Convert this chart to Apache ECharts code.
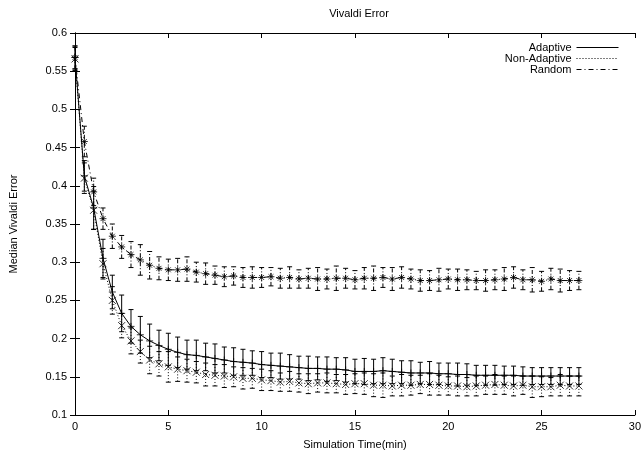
<!DOCTYPE html>
<html>
<head>
<meta charset="utf-8">
<script src="https://cdn.jsdelivr.net/npm/echarts@6/dist/echarts.min.js"></script>
<style>
  html, body { margin: 0; padding: 0; background: #fff; }
  #chart { width: 644px; height: 455px; }
</style>
</head>
<body>
<div id="chart"></div>
<script>
// sample times (min)
const times = [0, 0.5, 1, 1.5, 2, 2.5, 3, 3.5, 4, 4.5, 5, 5.5, 6, 6.5, 7, 7.5, 8, 8.5, 9, 9.5,
  10, 10.5, 11, 11.5, 12, 12.5, 13, 13.5, 14, 14.5, 15, 15.5, 16, 16.5, 17, 17.5, 18, 18.5, 19, 19.5,
  20, 20.5, 21, 21.5, 22, 22.5, 23, 23.5, 24, 24.5, 25, 25.5, 26, 26.5, 27];

const adaptive = [0.568, 0.413, 0.371, 0.305, 0.261, 0.233, 0.216, 0.205, 0.197, 0.191,
  0.186, 0.182, 0.179, 0.178, 0.176, 0.174, 0.172, 0.170, 0.169, 0.168,
  0.166, 0.165, 0.164, 0.163, 0.162, 0.161, 0.161, 0.160, 0.160, 0.159,
  0.157, 0.157, 0.157, 0.158, 0.157, 0.156, 0.155, 0.155, 0.155, 0.154,
  0.154, 0.153, 0.153, 0.152, 0.152, 0.152, 0.152, 0.152, 0.151, 0.151,
  0.151, 0.151, 0.151, 0.151, 0.151];
const adaptiveErr = [0.015, 0.020, 0.028, 0.025, 0.022, 0.024, 0.022, 0.024, 0.022, 0.020,
  0.021, 0.020, 0.019, 0.020, 0.018, 0.019, 0.017, 0.018, 0.017, 0.016,
  0.017, 0.016, 0.017, 0.016, 0.015, 0.016, 0.015, 0.016, 0.015, 0.016,
  0.016, 0.017, 0.016, 0.017, 0.016, 0.015, 0.016, 0.014, 0.015, 0.014,
  0.014, 0.015, 0.014, 0.013, 0.013, 0.013, 0.012, 0.012, 0.012, 0.011,
  0.011, 0.011, 0.011, 0.011, 0.011];

const nonAdaptive = [0.566, 0.410, 0.368, 0.298, 0.250, 0.217, 0.197, 0.183, 0.172, 0.167,
  0.163, 0.160, 0.158, 0.156, 0.153, 0.152, 0.151, 0.150, 0.148, 0.148,
  0.146, 0.145, 0.143, 0.144, 0.142, 0.141, 0.142, 0.142, 0.141, 0.140,
  0.141, 0.141, 0.139, 0.139, 0.138, 0.139, 0.139, 0.140, 0.140, 0.139,
  0.138, 0.138, 0.137, 0.138, 0.139, 0.140, 0.139, 0.138, 0.139, 0.137,
  0.137, 0.137, 0.139, 0.138, 0.138];
const nonAdaptiveErr = [0.015, 0.020, 0.025, 0.020, 0.018, 0.016, 0.017, 0.015, 0.018, 0.016,
  0.020, 0.016, 0.015, 0.014, 0.015, 0.014, 0.015, 0.013, 0.014, 0.013,
  0.014, 0.013, 0.012, 0.013, 0.012, 0.013, 0.012, 0.013, 0.012, 0.013,
  0.013, 0.014, 0.015, 0.016, 0.013, 0.014, 0.013, 0.012, 0.014, 0.013,
  0.012, 0.013, 0.012, 0.013, 0.012, 0.013, 0.012, 0.013, 0.012, 0.014,
  0.013, 0.012, 0.014, 0.013, 0.013];

const random = [0.568, 0.458, 0.392, 0.357, 0.334, 0.320, 0.310, 0.303, 0.296, 0.292,
  0.290, 0.290, 0.291, 0.287, 0.285, 0.283, 0.281, 0.282, 0.280, 0.280,
  0.280, 0.281, 0.279, 0.280, 0.278, 0.279, 0.278, 0.278, 0.279, 0.279,
  0.277, 0.279, 0.279, 0.280, 0.278, 0.280, 0.278, 0.276, 0.276, 0.277,
  0.278, 0.277, 0.277, 0.276, 0.276, 0.277, 0.278, 0.280, 0.277, 0.277,
  0.275, 0.278, 0.276, 0.276, 0.276];
const randomErr = [0.015, 0.020, 0.018, 0.014, 0.016, 0.015, 0.017, 0.020, 0.018, 0.015,
  0.014, 0.015, 0.016, 0.013, 0.014, 0.012, 0.013, 0.012, 0.013, 0.014,
  0.013, 0.012, 0.013, 0.014, 0.012, 0.013, 0.015, 0.013, 0.016, 0.013,
  0.012, 0.014, 0.016, 0.013, 0.015, 0.014, 0.013, 0.014, 0.013, 0.015,
  0.013, 0.014, 0.013, 0.012, 0.014, 0.013, 0.015, 0.014, 0.013, 0.016,
  0.013, 0.014, 0.015, 0.013, 0.012];

const xTicks = [0, 5, 10, 15, 20, 25, 30];
const yTicks = [0.1, 0.15, 0.2, 0.25, 0.3, 0.35, 0.4, 0.45, 0.5, 0.55, 0.6];

const FONT = 'Liberation Sans';
const plus = 'path://M0,-1L0,1M-1,0L1,0';
const cross = 'path://M-1,-1L1,1M-1,1L1,-1';
const star = 'path://M0,-1L0,1M-1,0L1,0M-0.7,-0.7L0.7,0.7M-0.7,0.7L0.7,-0.7';

const pairs = ys => times.map((t, i) => [t, ys[i]]);

function lineSeries(name, ys, dash) {
  return {
    name: name, type: 'line', data: pairs(ys), symbol: 'none',
    lineStyle: { color: '#000', width: 1, type: dash },
    itemStyle: { color: '#000' },
    animation: false, z: 3
  };
}

function markSeries(name, ys, sym) {
  return {
    name: name + ' pts', type: 'scatter', data: pairs(ys), symbol: sym, symbolSize: 7,
    itemStyle: { color: 'none', borderColor: '#000', borderWidth: 1 },
    silent: true, animation: false, z: 4
  };
}

function errSeries(name, ys, errs, dash) {
  return {
    name: name + ' err', type: 'custom', silent: true, animation: false, z: 2,
    data: times.map((t, i) => [t, ys[i] - errs[i], ys[i] + errs[i]]),
    encode: { x: 0, y: [1, 2] },
    renderItem(params, api) {
      const lo = api.coord([api.value(0), api.value(1)]);
      const hi = api.coord([api.value(0), api.value(2)]);
      const w = 2.5;
      const st = { stroke: '#000', lineWidth: 1, lineDash: dash };
      return {
        type: 'group',
        children: [
          { type: 'line', shape: { x1: lo[0], y1: lo[1], x2: hi[0], y2: hi[1] }, style: st },
          { type: 'line', shape: { x1: lo[0] - w, y1: lo[1], x2: lo[0] + w, y2: lo[1] }, style: { stroke: '#000', lineWidth: 1 } },
          { type: 'line', shape: { x1: hi[0] - w, y1: hi[1], x2: hi[0] + w, y2: hi[1] }, style: { stroke: '#000', lineWidth: 1 } }
        ]
      };
    }
  };
}

const chart = echarts.init(document.getElementById('chart'), null, { renderer: 'canvas' });

const axisCommon = {
  axisLine: { show: true, lineStyle: { color: '#000', width: 1 } },
  axisTick: { show: true, inside: true, length: 5, lineStyle: { color: '#000' } },
  splitLine: { show: false }
};

chart.setOption({
  backgroundColor: '#fff',
  animation: false,
  textStyle: { fontFamily: FONT },
  title: {
    text: 'Vivaldi Error', left: 354, top: 3, textAlign: 'center',
    textStyle: { fontFamily: FONT, fontSize: 11, fontWeight: 'normal', color: '#000' }
  },
  legend: {
    data: ['Adaptive', 'Non-Adaptive', 'Random'],
    orient: 'vertical', align: 'right', right: 20, top: 37,
    itemWidth: 42, itemHeight: 12, itemGap: 0,
    itemStyle: { opacity: 0 },
    lineStyle: { width: 1 },
    textStyle: { fontFamily: FONT, fontSize: 11, color: '#000' }
  },
  grid: { left: 74, right: 9, top: 33, bottom: 40 },
  xAxis: [
    Object.assign({
      type: 'value', min: xTicks[0], max: xTicks[xTicks.length - 1], interval: 5,
      name: 'Simulation Time(min)', nameLocation: 'middle', nameGap: 24,
      nameTextStyle: { fontFamily: FONT, fontSize: 11, color: '#000' },
      axisLabel: { color: '#000', fontFamily: FONT, fontSize: 11, margin: 6 }
    }, axisCommon),
    Object.assign({
      type: 'value', position: 'top', min: xTicks[0], max: xTicks[xTicks.length - 1], interval: 5,
      axisLabel: { show: false }
    }, axisCommon)
  ],
  yAxis: [
    Object.assign({
      type: 'value', min: yTicks[0], max: yTicks[yTicks.length - 1], interval: 0.05,
      name: 'Median Vivaldi Error', nameLocation: 'middle', nameGap: 56, nameRotate: 90,
      nameTextStyle: { fontFamily: FONT, fontSize: 11, color: '#000' },
      axisLabel: { color: '#000', fontFamily: FONT, fontSize: 11, margin: 8 }
    }, axisCommon),
    Object.assign({
      type: 'value', position: 'right', min: yTicks[0], max: yTicks[yTicks.length - 1], interval: 0.05,
      axisLabel: { show: false }
    }, axisCommon)
  ],
  series: [
    errSeries('Adaptive', adaptive, adaptiveErr, null),
    errSeries('Non-Adaptive', nonAdaptive, nonAdaptiveErr, [1, 2]),
    errSeries('Random', random, randomErr, [4, 2, 1, 2]),
    lineSeries('Adaptive', adaptive, 'solid'),
    lineSeries('Non-Adaptive', nonAdaptive, [1, 2]),
    lineSeries('Random', random, [5, 3, 1, 3]),
    markSeries('Adaptive', adaptive, plus),
    markSeries('Non-Adaptive', nonAdaptive, cross),
    markSeries('Random', random, star)
  ]
});
</script>
</body>
</html>
